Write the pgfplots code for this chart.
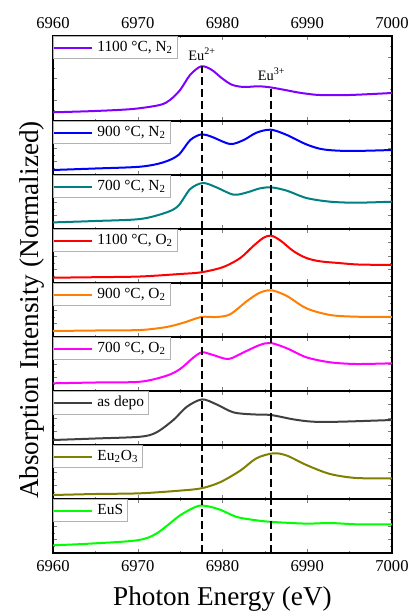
\documentclass[border=0pt]{standalone}
\usepackage{fontspec}
\setmainfont{Liberation Serif}
\usepackage{pgfplots}
\pgfplotsset{compat=1.18}
\usepgfplotslibrary{groupplots}
\usetikzlibrary{calc}

\definecolor{cpurple}{HTML}{8000FF}
\definecolor{cblue}{HTML}{0000FF}
\definecolor{cteal}{HTML}{008080}
\definecolor{cred}{HTML}{FF0000}
\definecolor{corange}{HTML}{FF8000}
\definecolor{cmagenta}{HTML}{FF00FF}
\definecolor{cgray}{HTML}{404040}
\definecolor{colive}{HTML}{808000}
\definecolor{cgreen}{HTML}{00FF00}

\pgfplotsset{
  panel/.style={
    width=169.5pt, height=27pt, scale only axis,
    xmin=6960, xmax=7000, ymin=0, ymax=54,
    xtick={6960,6970,6980,6990,7000}, minor x tick num=1,
    ytick={0,13.5,27,40.5,54}, minor y tick num=1,
    xticklabels={}, yticklabels={},
    tick align=inside, xtick pos=both, ytick pos=both,
    major tick length=2pt, minor tick length=1.2pt,
    axis line style={line width=0.6pt},
    tick label style={font=\fontsize{8.3}{10}\selectfont},
    legend cell align=left,
    legend style={at={(0,1)}, anchor=north west, draw=gray!60, line width=0.4pt,
      inner xsep=0pt, inner ysep=0.3pt, font=\fontsize{7.7}{9}\selectfont},
    legend image code/.code={\draw[#1] (-1pt,0pt) -- (18pt,0pt);},
  },
  curve/.style={line width=1pt, smooth},
  ref/.style={black, line width=0.9pt, dash pattern=on 4pt off 2pt, forget plot},
}

\begin{document}
\begin{tikzpicture}
\begin{groupplot}[group style={group size=1 by 9, vertical sep=0pt}, panel]

% 1100 C, N2
\nextgroupplot[height=42.5pt, ymax=85, ytick={0,21.25,42.5,63.75,85},
  xticklabel pos=upper, xticklabels={6960,6970,6980,6990,7000}]
\addplot[curve, cpurple] coordinates {
  (6960,8.7) (6965,10) (6969.4,12) (6972.6,16) (6973.8,21) (6975,31)
  (6976.2,46.3) (6977.5,54.7) (6978.7,51.3) (6979.9,43) (6981.1,36.3)
  (6982.5,34) (6984.2,34.7) (6985.6,33.7) (6987.2,31.3) (6988.8,28.7)
  (6989.9,27.3) (6991.5,26) (6995,26) (7000,28)
};
\addlegendentry{1100 °C, N\textsubscript{2}}
\addplot[ref] coordinates {(6977.6,0) (6977.6,54.7)};
\addplot[ref] coordinates {(6985.7,0) (6985.7,34)};
\node[font=\fontsize{7.2}{8}\selectfont] at (axis cs:6977.6,66.3) {Eu\textsuperscript{2+}};
\node[font=\fontsize{7.2}{8}\selectfont] at (axis cs:6985.8,46.3) {Eu\textsuperscript{3+}};

% 900 C, N2
\nextgroupplot
\addplot[curve, cblue] coordinates {
  (6960,5) (6965,6.5) (6970.3,8.3) (6973,12.6) (6974.8,20) (6976.2,35)
  (6977.5,40.6) (6978.7,38.3) (6980.9,31) (6982.5,35) (6984,42.3)
  (6985.7,45.3) (6987.6,40) (6989.9,30.6) (6991.9,25.6) (6995,24) (7000,25)
};
\addlegendentry{900 °C, N\textsubscript{2}}
\addplot[ref] coordinates {(6977.6,0) (6977.6,54)};
\addplot[ref] coordinates {(6985.7,0) (6985.7,54)};

% 700 C, N2
\nextgroupplot
\addplot[curve, cteal] coordinates {
  (6960,6.6) (6965,8) (6970.3,10) (6973.4,16.6) (6974.8,23.3) (6976.2,40)
  (6977.7,46) (6979.3,41.6) (6981.3,34.3) (6982.9,36.6) (6984.4,40.6)
  (6985.8,41.6) (6987.6,38.3) (6989.9,31) (6992.7,27.3) (6995.8,26.3) (7000,27.3)
};
\addlegendentry{700 °C, N\textsubscript{2}}
\addplot[ref] coordinates {(6977.6,0) (6977.6,54)};
\addplot[ref] coordinates {(6985.7,0) (6985.7,54)};

% 1100 C, O2
\nextgroupplot
\addplot[curve, cred] coordinates {
  (6960,5.3) (6965,5.8) (6970.3,6.5) (6975,9) (6977.5,10.7) (6980.1,16)
  (6982.1,25) (6983.6,36.7) (6984.8,45) (6985.7,47.4) (6986.8,42.7)
  (6988.4,31.7) (6989.9,25) (6991.5,21.7) (6993.7,20) (6996,18.5) (7000,18)
};
\addlegendentry{1100 °C, O\textsubscript{2}}
\addplot[ref] coordinates {(6977.6,0) (6977.6,54)};
\addplot[ref] coordinates {(6985.7,0) (6985.7,54)};

% 900 C, O2
\nextgroupplot[ylabel={Absorption Intensity (Normalized)},
  ylabel style={at={(axis description cs:-0.044,0.5)}, anchor=base,
    font=\fontsize{13.6}{16}\selectfont}]
\addplot[curve, corange] coordinates {
  (6960,6) (6965,6.5) (6970.3,7) (6973.4,10) (6975.4,14.3) (6977.5,20)
  (6979.3,20) (6980.9,22.7) (6982.9,36) (6984.4,44.3) (6985.8,46.7)
  (6987.6,41) (6989.9,28.7) (6992.7,22) (6995.8,20.3) (7000,20)
};
\addlegendentry{900 °C, O\textsubscript{2}}
\addplot[ref] coordinates {(6977.6,0) (6977.6,54)};
\addplot[ref] coordinates {(6985.7,0) (6985.7,54)};

% 700 C, O2
\nextgroupplot
\addplot[curve, cmagenta] coordinates {
  (6960,7.7) (6965,8.5) (6970.3,9.3) (6973.4,15.3) (6975,22) (6976.6,33.7)
  (6977.6,38.7) (6978.9,36) (6980.7,32) (6982.5,38.7) (6984.4,46)
  (6985.7,48) (6987.6,42.7) (6989.9,33.7) (6992.7,28.7) (6995.8,27) (7000,27.7)
};
\addlegendentry{700 °C, O\textsubscript{2}}
\addplot[ref] coordinates {(6977.6,0) (6977.6,54)};
\addplot[ref] coordinates {(6985.7,0) (6985.7,54)};

% as deposited
\nextgroupplot
\addplot[curve, cgray] coordinates {
  (6960,5) (6965,6.5) (6970.3,8.3) (6972.2,12.6) (6974.2,25) (6975.8,38.3)
  (6977.6,45.6) (6979.3,40.6) (6981.3,32.6) (6983.6,30.6) (6985.7,30)
  (6988.4,25.6) (6990.7,23.3) (6993.9,23.3) (7000,25)
};
\addlegendentry{as depo}
\addplot[ref] coordinates {(6977.6,0) (6977.6,54)};
\addplot[ref] coordinates {(6985.7,0) (6985.7,54)};

% Eu2O3
\nextgroupplot
\addplot[curve, colive] coordinates {
  (6960,4) (6965,5) (6970.3,5.7) (6975,8.4) (6977.5,10.7) (6979.7,16.7)
  (6982.1,28.4) (6984,40.7) (6986,45.7) (6987.6,43.4) (6989.9,34)
  (6992.7,25) (6995.8,21) (7000,20.7)
};
\addlegendentry{Eu\textsubscript{2}O\textsubscript{3}}
\addplot[ref] coordinates {(6977.6,0) (6977.6,54)};
\addplot[ref] coordinates {(6985.7,0) (6985.7,54)};

% EuS
\nextgroupplot[xticklabels={6960,6970,6980,6990,7000},
  xlabel={Photon Energy (eV)},
  xlabel style={at={(axis description cs:0.5,0)}, anchor=base, yshift=-26pt,
    font=\fontsize{13.6}{16}\selectfont}]
\addplot[curve, cgreen] coordinates {
  (6960,7.7) (6964.4,9.4) (6969.9,12.7) (6972.2,19.4) (6975,37.7) (6977,46.7)
  (6978.1,47) (6979.7,43.4) (6981.7,36) (6984,32.7) (6986,31) (6989.9,29.4)
  (6992.7,30) (6995.8,28.7) (7000,28.7)
};
\addlegendentry{EuS}
\addplot[ref] coordinates {(6977.6,0) (6977.6,54)};
\addplot[ref] coordinates {(6985.7,0) (6985.7,54)};

\end{groupplot}
\pgfresetboundingbox
\path[use as bounding box] ($(group c1r1.north west)+(-26.5pt,18pt)$)
  rectangle ($(group c1r9.south east)+(12.5pt,-29pt)$);
\end{tikzpicture}
\end{document}
